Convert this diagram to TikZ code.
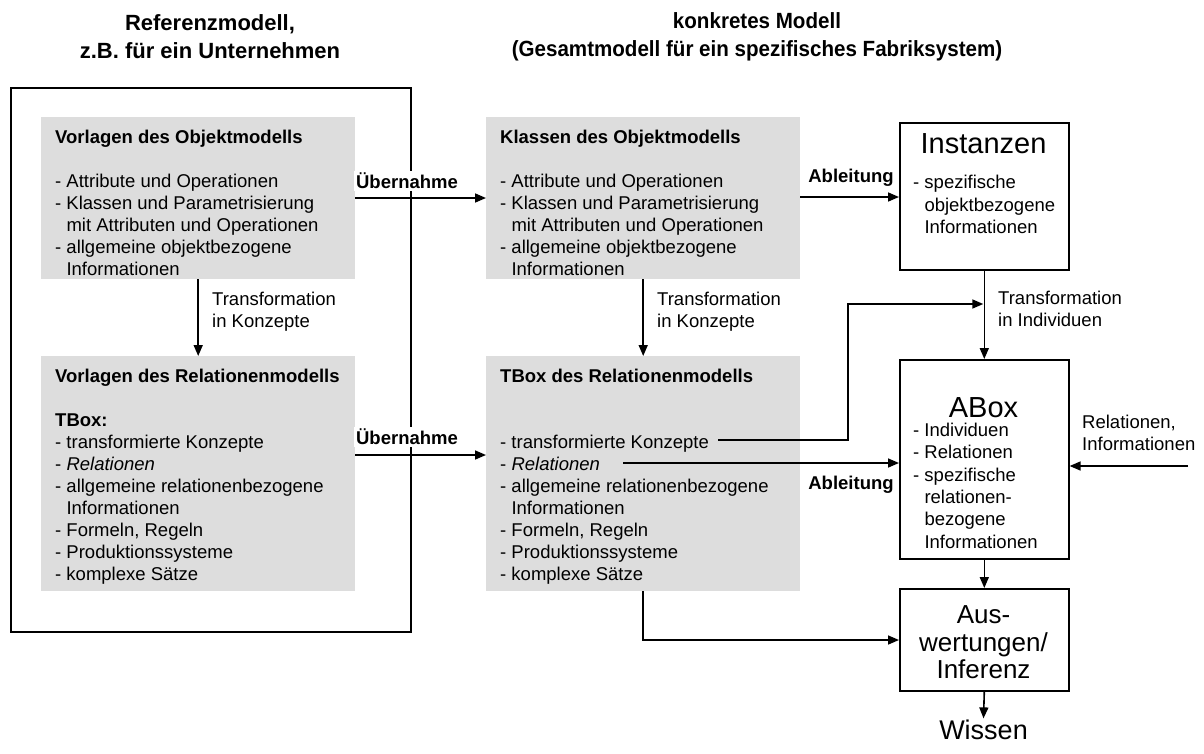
\documentclass[tikz,border=0pt]{standalone}
\usepackage{fontspec}
\setmainfont{Liberation Sans}
\usetikzlibrary{arrows.meta}
\definecolor{panelgray}{RGB}{221,221,221}
\newcommand{\mystrut}{\rule{0pt}{15pt}}
\newcommand{\ind}{\hphantom{- }}
\begin{document}
\begin{tikzpicture}[x=1pt,y=-1pt,
  body/.style={font=\fontsize{18.5}{22}\selectfont},
  head/.style={font=\fontsize{22}{28}\selectfont\bfseries, align=center, inner sep=0pt},
  big/.style={font=\fontsize{29}{32}\selectfont, inner sep=0pt},
  panel/.style={fill=panelgray, draw=none, inner sep=0pt, anchor=north west},
  frame/.style={draw=black, line width=1.6pt, fill=white, inner sep=0pt, anchor=north west},
  txt/.style={body, align=left, inner sep=0pt, anchor=north west},
  lbl/.style={font=\fontsize{18.5}{22}\selectfont\bfseries, fill=white, inner sep=2pt},
  arr/.style={-{Triangle[length=11pt,width=9pt]}, line width=1.6pt}]
\useasboundingbox (0,0) rectangle (1204,753);

% headings
\node[head] (h1) at (210,37) {Referenzmodell,\\z.B. für ein Unternehmen};
\node[head, xscale=0.935] (h2) at (757,37) {konkretes Modell\\(Gesamtmodell für ein spezifisches Fabriksystem)};

% reference model frame
\node[draw=black, line width=1.6pt, inner sep=0pt, anchor=north west,
      minimum width=400, minimum height=544] (ref) at (10,87) {};

% grey panels
\node[panel, minimum width=314, minimum height=162] (vo) at (41,117) {};
\node[panel, minimum width=314, minimum height=235] (vr) at (41,356) {};
\node[panel, minimum width=314, minimum height=162] (kl) at (486,117) {};
\node[panel, minimum width=314, minimum height=235] (tb) at (486,356) {};

\node[txt] (vot) at (55,128.5) {\mystrut\textbf{Vorlagen des Objektmodells}\\[22pt]
- Attribute und Operationen\\
- Klassen und Parametrisierung\\
\ind mit Attributen und Operationen\\
- allgemeine objektbezogene\\
\ind Informationen};

\node[txt] (vrt) at (55,367.5) {\mystrut\textbf{Vorlagen des Relationenmodells}\\[22pt]
\textbf{TBox:}\\
- transformierte Konzepte\\
- \textit{Relationen}\\
- allgemeine relationenbezogene\\
\ind Informationen\\
- Formeln, Regeln\\
- Produktionssysteme\\
- komplexe Sätze};

\node[txt] (klt) at (500,128.5) {\mystrut\textbf{Klassen des Objektmodells}\\[22pt]
- Attribute und Operationen\\
- Klassen und Parametrisierung\\
\ind mit Attributen und Operationen\\
- allgemeine objektbezogene\\
\ind Informationen};

\node[txt] (tbt) at (500,367.5) {\mystrut\textbf{TBox des Relationenmodells}\\[44pt]
- transformierte Konzepte\\
- \textit{Relationen}\\
- allgemeine relationenbezogene\\
\ind Informationen\\
- Formeln, Regeln\\
- Produktionssysteme\\
- komplexe Sätze};

% framed boxes on the right
\node[frame, minimum width=169, minimum height=147] (inst) at (899,122) {};
\node[frame, minimum width=169, minimum height=199] (abox) at (899,359) {};
\node[frame, minimum width=169, minimum height=102] (aus) at (899,588) {};

\node[big, anchor=base] (instt) at (983.5,153.4) {Instanzen};
\node[txt, font=\fontsize{18.5}{22.5}\selectfont] (insttx) at (913,173.5) {\mystrut- spezifische\\
\ind objektbezogene\\
\ind Informationen};

\node[big, anchor=base] (aboxt) at (983.5,417.4) {ABox};
\node[txt, font=\fontsize{18.5}{22.4}\selectfont] (aboxtx) at (913,421) {\mystrut- Individuen\\
- Relationen\\
- spezifische\\
\ind relationen-\\
\ind bezogene\\
\ind Informationen};

\node[font=\fontsize{26}{27.5}\selectfont, align=center, inner sep=0pt] (aust) at (983.5,642.5) {Aus-\\wertungen/\\Inferenz};

\node[font=\fontsize{27}{30}\selectfont, inner sep=1.5pt] (wissen) at (983.5,730) {Wissen};

% connector labels
\node[lbl] (ub1) at (407,181) {Übernahme};
\node[lbl] (ub2) at (407,437) {Übernahme};
\node[lbl] (ab1) at (851,178) {Ableitung};
\node[lbl] (ab2) at (851,485) {Ableitung};
\node[txt] (tk1) at (212,290.5) {\mystrut Transformation\\in Konzepte};
\node[txt] (tk2) at (657,290.5) {\mystrut Transformation\\in Konzepte};
\node[txt] (ti) at (998,289.5) {\mystrut Transformation\\in Individuen};
\node[txt] (ri) at (1082,413.5) {\mystrut Relationen,\\Informationen};

% helper points
\coordinate (yU1) at (0,198);
\coordinate (yU2) at (0,455);
\coordinate (yA1) at (0,197);
\coordinate (yA2) at (0,463);
\coordinate (yR) at (0,466);
\coordinate (yK) at (0,304);
\coordinate (yB) at (0,640);
\coordinate (konz) at (718,440);
\coordinate (konzc) at (848,440);
\coordinate (rel) at (623,463);
\coordinate (ext) at (1188,466);

% connectors
\draw[arr] (vo.east |- yU1) -- (kl.west |- yU1);
\draw[arr] (vr.east |- yU2) -- (tb.west |- yU2);
\draw[arr] (vo.south) -- (vr.north);
\draw[arr] (kl.south) -- (tb.north);
\draw[arr] (kl.east |- yA1) -- (inst.west |- yA1);
\draw[arr] (inst.south) -- (abox.north);
\draw[arr] (konz) -- (konzc) -- (konzc |- yK) -- ([xshift=-1pt]inst.south |- yK);
\draw[arr] (rel) -- (abox.west |- yA2);
\draw[arr] (ext) -- (abox.east |- yR);
\draw[arr] (abox.south) -- (aus.north);
\draw[arr] (tb.south) -- (tb.south |- yB) -- (aus.west |- yB);
\draw[arr] (aus.south) -- (wissen.north);
\end{tikzpicture}
\end{document}
